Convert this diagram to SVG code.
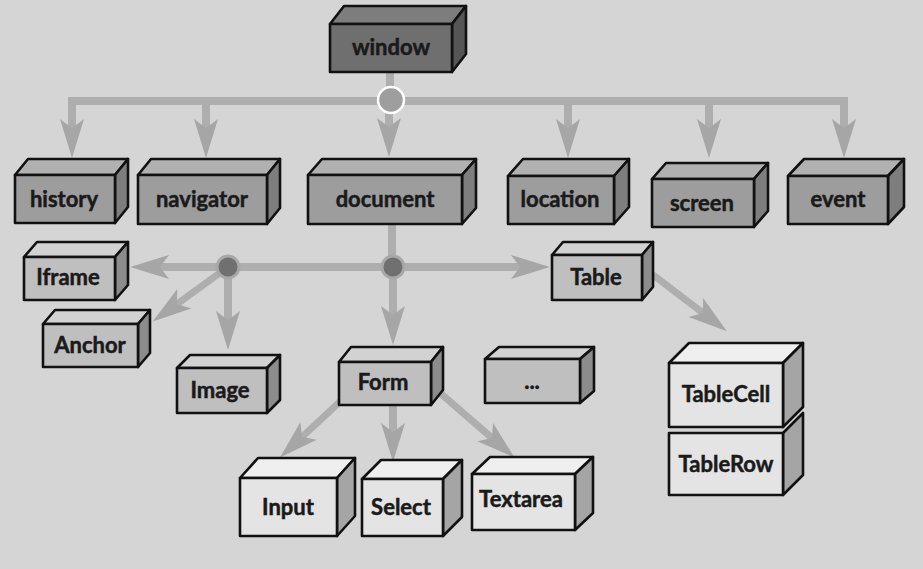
<svg xmlns="http://www.w3.org/2000/svg" width="923" height="569" viewBox="0 0 923 569">
<style>
.b{stroke:#111;stroke-width:2.6;stroke-linejoin:round}
.t{font-family:Lato,"Open Sans","Liberation Sans",sans-serif;font-weight:bold;font-size:22px;fill:#1a1a1a;stroke:#1a1a1a;stroke-width:0.5;text-anchor:middle}
.l1 .f{fill:#6f6f6f}.l1 .tp{fill:#7d7d7d}.l1 .s{fill:#555}
.l2 .f{fill:#9d9d9d}.l2 .tp{fill:#b1b1b1}.l2 .s{fill:#7e7e7e}
.l3 .f{fill:#bfbfbf}.l3 .tp{fill:#d2d2d2}.l3 .s{fill:#8c8c8c}
.l4 .f{fill:#e4e4e4}.l4 .tp{fill:#efefef}.l4 .s{fill:#a5a5a5}
.c{fill:none;stroke:#aeaeae;stroke-width:8;marker-end:url(#ah)}
.cn{fill:none;stroke:#aeaeae;stroke-width:8}
.cd{fill:none;stroke:#aeaeae;stroke-width:7;marker-end:url(#ah)}
</style>
<defs>
<marker id="ah" markerUnits="userSpaceOnUse" orient="auto" refX="0" refY="0" markerWidth="1" markerHeight="1" style="overflow:visible">
<path d="M-9,-12 L30,0 L-9,12 L0,0 Z" fill="#a6a6a6"/>
</marker>
</defs>
<rect width="923" height="569" fill="#d5d5d5"/>
<g id="connectors">
<path class="cn" d="M390,70 V101"/>
<path class="cn" d="M68,101 H848"/>
<path class="c" d="M72,101 V128"/>
<path class="c" d="M206,101 V128"/>
<path class="c" d="M389,101 V127"/>
<path class="c" d="M568,101 V128"/>
<path class="c" d="M709,101 V128"/>
<path class="c" d="M844,101 V128"/>
<circle cx="391" cy="100" r="13" fill="#9e9e9e" stroke="#ffffff" stroke-width="2.5"/>
<path class="cn" d="M392,222 V267"/>
<path class="cn" d="M228,267 H393"/>
<path class="c" d="M228,267 H160"/>
<path class="c" d="M393,267 H520"/>
<path class="c" d="M393,267 V315"/>
<path class="cd" d="M228,267 L177,304"/>
<path class="c" d="M228,267 V320"/>
<circle cx="228" cy="267" r="11" fill="#707070" stroke="#a8a8a8" stroke-width="3"/>
<circle cx="393" cy="267" r="11" fill="#707070" stroke="#a8a8a8" stroke-width="3"/>
<path class="cd" d="M640,265 L703,313"/>
<path class="cd" d="M345,397 L302,437"/>
<path class="c" d="M393,400 V432"/>
<path class="cd" d="M432,386 L492,438"/>
</g>
<g id="window" class="l1">
<polygon class="b tp" points="330,24 344,6 466,6 452,24"/>
<polygon class="b s" points="452,24 466,6 466,54 452,72"/>
<rect class="b f" x="330" y="24" width="122" height="48"/>
<text class="t" x="391" y="55">window</text>
</g>
<g id="history" class="l2">
<polygon class="b tp" points="15,175 28,159 128,159 115,175"/>
<polygon class="b s" points="115,175 128,159 128,207 115,223"/>
<rect class="b f" x="15" y="175" width="100" height="48"/>
<text class="t" x="64" y="207">history</text>
</g>
<g id="navigator" class="l2">
<polygon class="b tp" points="138,175 151,159 280,159 267,175"/>
<polygon class="b s" points="267,175 280,159 280,208 267,224"/>
<rect class="b f" x="138" y="175" width="129" height="49"/>
<text class="t" x="202" y="207">navigator</text>
</g>
<g id="document" class="l2">
<polygon class="b tp" points="308,175 322,159 476,159 462,175"/>
<polygon class="b s" points="462,175 476,159 476,208 462,224"/>
<rect class="b f" x="308" y="175" width="154" height="49"/>
<text class="t" x="385" y="207">document</text>
</g>
<g id="location" class="l2">
<polygon class="b tp" points="508,176 523,159 629,159 614,176"/>
<polygon class="b s" points="614,176 629,159 629,207 614,224"/>
<rect class="b f" x="508" y="176" width="106" height="48"/>
<text class="t" x="560" y="207">location</text>
</g>
<g id="screen" class="l2">
<polygon class="b tp" points="652,179 666,163 768,163 754,179"/>
<polygon class="b s" points="754,179 768,163 768,211 754,227"/>
<rect class="b f" x="652" y="179" width="102" height="48"/>
<text class="t" x="702" y="211">screen</text>
</g>
<g id="event" class="l2">
<polygon class="b tp" points="788,176 804,159 904,159 888,176"/>
<polygon class="b s" points="888,176 904,159 904,207 888,224"/>
<rect class="b f" x="788" y="176" width="100" height="48"/>
<text class="t" x="838" y="207">event</text>
</g>
<g id="iframe" class="l3">
<polygon class="b tp" points="24,257 37,242 128,242 115,257"/>
<polygon class="b s" points="115,257 128,242 128,285 115,300"/>
<rect class="b f" x="24" y="257" width="91" height="43"/>
<text class="t" x="68" y="285">Iframe</text>
</g>
<g id="anchor" class="l3">
<polygon class="b tp" points="43,324 55,310 150,310 138,324"/>
<polygon class="b s" points="138,324 150,310 150,353 138,367"/>
<rect class="b f" x="43" y="324" width="95" height="43"/>
<text class="t" x="90" y="353">Anchor</text>
</g>
<g id="image" class="l3">
<polygon class="b tp" points="177,368 190,355 280,355 267,368"/>
<polygon class="b s" points="267,368 280,355 280,400 267,413"/>
<rect class="b f" x="177" y="368" width="90" height="45"/>
<text class="t" x="220" y="398">Image</text>
</g>
<g id="form" class="l3">
<polygon class="b tp" points="339,362 351,347 443,347 431,362"/>
<polygon class="b s" points="431,362 443,347 443,390 431,405"/>
<rect class="b f" x="339" y="362" width="92" height="43"/>
<text class="t" x="383" y="390">Form</text>
</g>
<g id="more" class="l3">
<polygon class="b tp" points="485,359 499,347 594,347 580,359"/>
<polygon class="b s" points="580,359 594,347 594,391 580,403"/>
<rect class="b f" x="485" y="359" width="95" height="44"/>
<text class="t" x="532" y="389">...</text>
</g>
<g id="table" class="l3">
<polygon class="b tp" points="552,255 563,242 653,242 642,255"/>
<polygon class="b s" points="642,255 653,242 653,287 642,300"/>
<rect class="b f" x="552" y="255" width="90" height="45"/>
<text class="t" x="596" y="285">Table</text>
</g>
<g id="tablerow" class="l4">
<polygon class="b s" points="783,433 803,413 803,475 783,495"/>
<rect class="b f" x="669" y="433" width="114" height="62"/>
<text class="t" x="726" y="472">TableRow</text>
</g>
<g id="tablecell" class="l4">
<polygon class="b tp" points="669,363 689,343 803,343 783,363"/>
<polygon class="b s" points="783,363 803,343 803,407 783,427"/>
<rect class="b f" x="669" y="363" width="114" height="64"/>
<text class="t" x="726" y="402">TableCell</text>
</g>
<g id="input" class="l4">
<polygon class="b tp" points="240,478 258,458 355,458 337,478"/>
<polygon class="b s" points="337,478 355,458 355,516 337,536"/>
<rect class="b f" x="240" y="478" width="97" height="58"/>
<text class="t" x="288" y="515">Input</text>
</g>
<g id="select" class="l4">
<polygon class="b tp" points="362,479 381,460 462,460 443,479"/>
<polygon class="b s" points="443,479 462,460 462,517 443,536"/>
<rect class="b f" x="362" y="479" width="81" height="57"/>
<text class="t" x="401" y="515">Select</text>
</g>
<g id="textarea" class="l4">
<polygon class="b tp" points="472,474 490,457 593,457 575,474"/>
<polygon class="b s" points="575,474 593,457 593,513 575,530"/>
<rect class="b f" x="472" y="474" width="103" height="56"/>
<text class="t" x="521" y="507">Textarea</text>
</g>
</svg>
